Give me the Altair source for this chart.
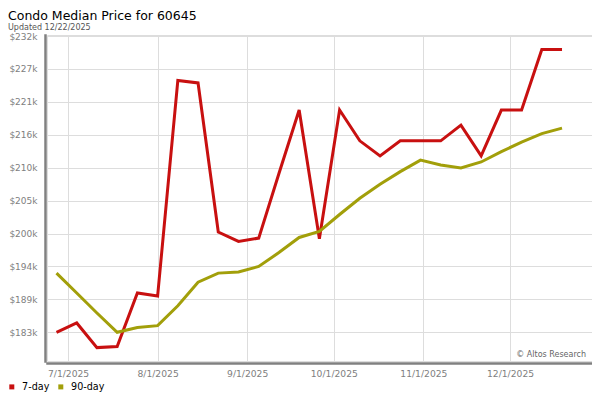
import pandas as pd
import altair as alt

chart_title = "Condo Median Price for 60645"
chart_subtitle = "Updated 12/22/2025"
credit = "© Altos Research"

series_names = ["7-day", "90-day"]
series_colors = ["#c81010", "#a29f0a"]

weeks = [
    "2025-06-27", "2025-07-04", "2025-07-11", "2025-07-18", "2025-07-25",
    "2025-08-01", "2025-08-08", "2025-08-15", "2025-08-22", "2025-08-29",
    "2025-09-05", "2025-09-12", "2025-09-19", "2025-09-26", "2025-10-03",
    "2025-10-10", "2025-10-17", "2025-10-24", "2025-10-31", "2025-11-07",
    "2025-11-14", "2025-11-21", "2025-11-28", "2025-12-05", "2025-12-12",
    "2025-12-19",
]
seven_day = [
    183200, 184750, 180670, 180840, 189710, 189200, 224900, 224480, 199800,
    198240, 198800, 209500, 220000, 198700, 220000, 214900, 212400, 214900,
    214900, 214900, 217500, 212400, 220000, 220000, 230000, 230000,
]
ninety_day = [
    193000, 189700, 186400, 183200, 184000, 184300, 187600, 191500, 193000,
    193200, 194100, 196400, 198900, 199900, 202700, 205400, 207700, 209800,
    211700, 210900, 210400, 211400, 213100, 214700, 216100, 217000,
]

# axis ticks
month_ticks = ["2025-07-01", "2025-08-01", "2025-09-01", "2025-10-01", "2025-11-01", "2025-12-01"]
y_ticks = [183200, 188650, 194100, 199550, 205000, 210450, 215900, 221350, 226800, 232250]

df = pd.DataFrame({
    "week": pd.to_datetime(weeks * 2),
    "series": ["7-day"] * len(weeks) + ["90-day"] * len(weeks),
    "price": seven_day + ninety_day,
})


def as_dt(s, hours=0):
    d = pd.Timestamp(s)
    return alt.DateTime(year=d.year, month=d.month, date=d.day, hours=hours)


x_domain = [as_dt("2025-06-23", 17), as_dt("2025-12-29", 9)]

lines = alt.Chart(df).mark_line(strokeWidth=3, clip=True).encode(
    x=alt.X("week:T", title=None,
            scale=alt.Scale(domain=x_domain, nice=False),
            axis=alt.Axis(values=[as_dt(m) for m in month_ticks], format="%-m/%-d/%Y",
                          ticks=False, tickSize=0, labelPadding=6, offset=2,
                          domainWidth=2.5, domainCap="square", labelFontSize=9.2)),
    y=alt.Y("price:Q", title=None,
            scale=alt.Scale(domain=[178450, 232420], nice=False, zero=False),
            axis=alt.Axis(values=y_ticks,
                          labelExpr="'$' + format(datum.value / 1000, '.0f') + 'k'",
                          ticks=False, tickSize=0, labelPadding=8, offset=2,
                          domainWidth=2.5, domainCap="square", labelFontSize=9)),
    color=alt.Color("series:N",
                    scale=alt.Scale(domain=series_names, range=series_colors),
                    legend=alt.Legend(title=None, orient="none", legendX=-40, legendY=347,
                                      direction="horizontal", symbolType="square",
                                      symbolSize=4, symbolStrokeWidth=3,
                                      labelOffset=5.5, columnPadding=3,
                                      labelFontSize=9.6, labelColor="black")),
)

credit_text = alt.Chart(pd.DataFrame({"t": [credit]})).mark_text(
    align="right", baseline="alphabetic", fontSize=8, color="#666666"
).encode(text="t:N", x=alt.value(539), y=alt.value(321.5))

chart = (lines + credit_text).properties(
    width=545,
    height=326,
    autosize=alt.AutoSizeParams(type="none"),
    padding={"left": 39, "top": 27, "right": 0, "bottom": 31},
    title=alt.TitleParams(chart_title, subtitle=chart_subtitle, anchor="start",
                          frame="group", dx=-39, offset=0.5, fontSize=12.5,
                          fontWeight="normal", color="black",
                          subtitleFontSize=8, subtitleColor="#555555", subtitlePadding=1),
).configure(
    font="DejaVu Sans"
).configure_view(
    stroke="#dddddd", strokeWidth=1
).configure_axis(
    gridColor="#dddddd", domainColor="#808080", labelColor="#808080"
)

chart.save("out.html", embed_options={"renderer": "svg", "actions": False})
